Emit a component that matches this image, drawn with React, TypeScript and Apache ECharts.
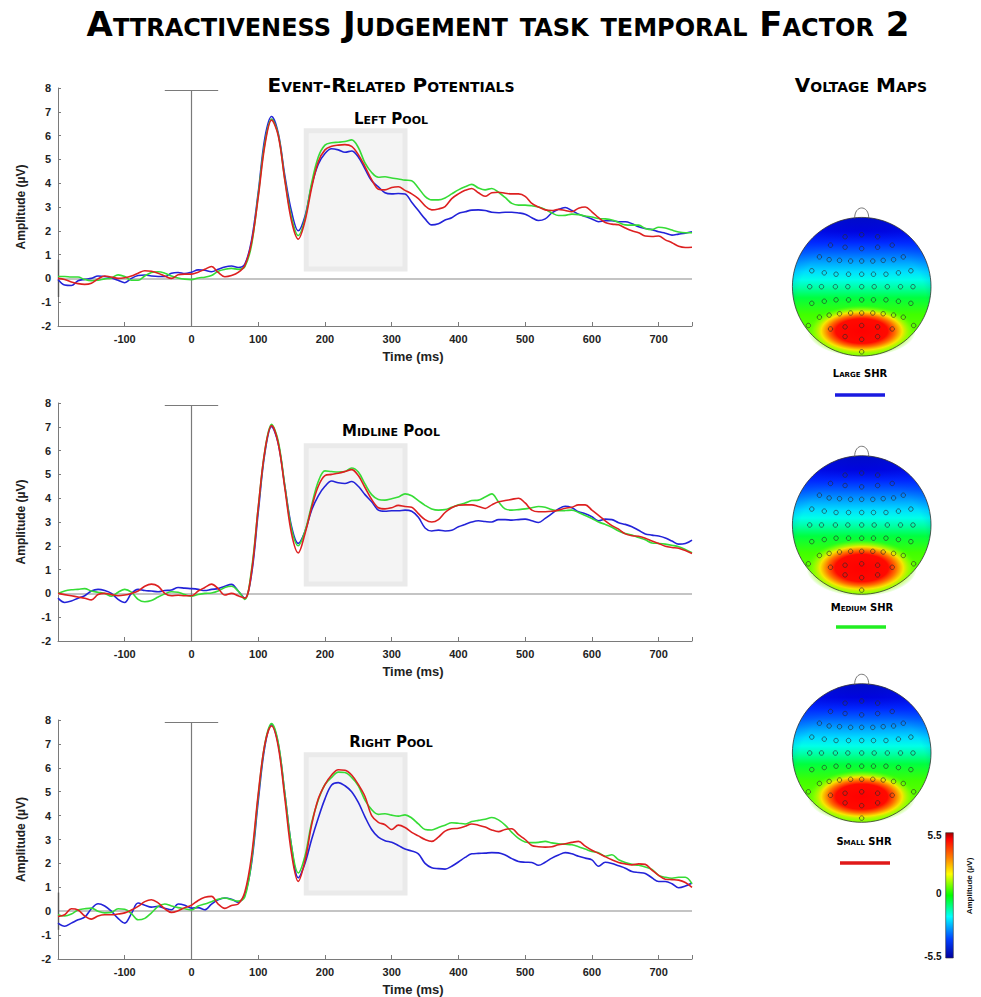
import React, { useEffect, useRef } from 'react';
import * as echarts from 'echarts';

const times = [-200,-190,-180,-170,-160,-150,-140,-130,-120,-110,-100,-90,-80,-70,-60,-50,-40,-30,-20,-10,0,10,20,30,40,50,60,70,80,90,100,110,120,130,140,150,160,170,180,190,200,210,220,230,240,250,260,270,280,290,300,310,320,330,340,350,360,370,380,390,400,410,420,430,440,450,460,470,480,490,500,510,520,530,540,550,560,570,580,590,600,610,620,630,640,650,660,670,680,690,700,710,720,730,740,750];

const xTicks = [-100, 0, 100, 200, 300, 400, 500, 600, 700];

// Left pool
const leftLarge = [-0.05,-0.28,-0.3,-0.1,-0.04,0.0,0.1,0.08,0.02,-0.08,-0.18,0.0,0.12,0.14,0.1,0.08,0.08,0.22,0.25,0.2,0.26,0.36,0.34,0.28,0.38,0.48,0.52,0.46,0.6,1.6,3.6,5.9,6.8,6.1,4.3,2.8,2.0,2.6,3.9,4.8,5.25,5.45,5.4,5.3,5.35,5.1,4.6,4.1,3.85,3.6,3.55,3.57,3.55,3.2,2.85,2.5,2.25,2.3,2.45,2.55,2.73,2.8,2.87,2.88,2.85,2.78,2.76,2.78,2.78,2.75,2.7,2.55,2.43,2.5,2.75,2.9,2.98,2.85,2.7,2.6,2.5,2.38,2.42,2.42,2.38,2.38,2.3,2.17,2.1,2.05,1.96,1.9,1.82,1.86,1.9,1.96];
const leftMedium = [0.08,0.08,0.06,0.06,-0.05,-0.1,-0.08,-0.02,0.02,0.15,0.08,-0.08,-0.08,0.1,0.25,0.28,0.22,0.1,0.02,-0.03,-0.05,0.02,0.05,0.12,0.3,0.38,0.42,0.38,0.5,1.4,3.5,5.7,6.7,6.05,4.15,2.55,1.8,2.5,4.0,5.1,5.6,5.7,5.72,5.75,5.82,5.5,4.85,4.45,4.25,4.27,4.22,4.18,4.13,4.1,3.8,3.45,3.3,3.3,3.38,3.55,3.72,3.85,3.95,3.8,3.72,3.78,3.62,3.4,3.15,3.08,3.08,3.05,3.0,2.9,2.75,2.64,2.65,2.7,2.68,2.62,2.58,2.52,2.5,2.45,2.35,2.25,2.24,2.24,2.1,2.05,2.15,2.12,2.03,1.95,1.92,1.92];
const leftSmall = [0.0,-0.05,-0.15,-0.22,-0.25,-0.2,-0.02,0.1,0.06,0.0,0.03,0.1,0.22,0.32,0.3,0.22,0.1,0.0,0.15,0.18,0.18,0.26,0.38,0.5,0.25,0.07,0.12,0.25,0.55,1.5,3.4,5.6,6.65,6.0,4.1,2.4,1.65,2.4,3.8,4.9,5.4,5.55,5.6,5.62,5.55,5.2,4.7,4.15,3.75,3.72,3.82,3.85,3.7,3.55,3.35,3.05,2.88,2.92,3.02,3.35,3.55,3.7,3.78,3.6,3.45,3.6,3.62,3.58,3.55,3.55,3.45,3.15,3.0,2.88,2.85,2.9,2.85,2.8,2.95,3.0,2.8,2.55,2.35,2.28,2.25,2.12,2.0,1.92,1.78,1.76,1.78,1.62,1.5,1.35,1.3,1.31];

// Midline pool
const midLarge = [-0.2,-0.38,-0.32,-0.2,-0.1,0.1,0.17,0.12,0.0,-0.25,-0.38,0.0,0.17,0.12,0.1,0.07,0.12,0.14,0.25,0.22,0.2,0.17,0.12,0.17,0.2,0.3,0.38,0.1,-0.2,0.8,3.4,5.9,7.0,6.3,4.5,2.8,2.1,2.6,3.5,4.1,4.5,4.72,4.65,4.62,4.7,4.5,4.15,3.85,3.5,3.45,3.47,3.47,3.5,3.45,3.2,2.75,2.62,2.66,2.62,2.65,2.8,2.9,3.0,3.05,3.02,3.0,3.1,3.1,3.08,3.1,3.12,3.05,2.98,3.15,3.35,3.55,3.66,3.6,3.43,3.35,3.22,3.05,3.12,3.1,2.97,2.9,2.8,2.65,2.5,2.45,2.41,2.33,2.2,2.07,2.1,2.24];
const midMedium = [0.0,0.1,0.15,0.17,0.2,0.1,0.05,0.0,-0.12,0.05,0.17,0.05,-0.25,-0.35,-0.3,-0.15,-0.02,0.07,0.05,-0.05,-0.12,-0.05,0.0,0.02,0.1,0.25,0.3,0.1,-0.25,1.0,3.6,6.0,7.1,6.4,4.5,2.7,2.0,2.6,3.7,4.7,5.15,5.12,5.1,5.12,5.27,5.1,4.6,4.15,3.95,3.92,3.98,4.05,4.18,4.1,3.9,3.7,3.55,3.5,3.52,3.62,3.72,3.8,3.9,3.92,4.05,4.18,3.85,3.55,3.5,3.52,3.55,3.6,3.65,3.62,3.52,3.47,3.48,3.5,3.4,3.27,3.15,3.0,2.9,2.78,2.62,2.52,2.45,2.35,2.25,2.12,2.1,2.07,2.02,1.96,1.85,1.71];
const midSmall = [0.0,-0.05,-0.1,-0.15,-0.2,-0.27,-0.05,0.0,-0.05,-0.1,-0.07,0.0,0.1,0.3,0.39,0.3,0.0,-0.1,-0.08,-0.1,-0.1,0.1,0.25,0.39,0.2,-0.07,0.0,-0.1,-0.2,0.9,3.6,6.0,7.05,6.3,4.4,2.5,1.7,2.5,3.6,4.5,4.95,5.0,5.05,5.12,5.2,4.95,4.45,3.95,3.6,3.55,3.6,3.7,3.65,3.62,3.35,3.1,3.0,3.1,3.4,3.6,3.7,3.72,3.72,3.65,3.57,3.72,3.85,3.9,3.95,4.0,3.8,3.5,3.43,3.43,3.45,3.5,3.58,3.62,3.72,3.72,3.5,3.28,3.05,2.85,2.7,2.5,2.42,2.4,2.32,2.2,2.1,1.98,1.93,1.9,1.8,1.68];

// Right pool
const rightLarge = [-0.5,-0.63,-0.5,-0.36,-0.25,0.1,0.31,0.22,0.0,-0.3,-0.5,-0.1,0.34,0.25,0.17,0.2,0.12,0.06,0.3,0.25,0.13,0.15,0.06,0.3,0.48,0.55,0.5,0.38,0.7,2.0,4.6,6.9,7.8,7.0,4.9,2.7,1.4,2.0,3.0,3.9,4.7,5.28,5.38,5.25,5.0,4.55,3.95,3.42,3.1,2.95,2.88,2.75,2.6,2.52,2.4,2.0,1.82,1.78,1.76,1.88,2.06,2.25,2.4,2.42,2.43,2.45,2.44,2.35,2.2,2.08,2.05,2.04,1.92,2.05,2.22,2.35,2.45,2.4,2.3,2.22,2.15,1.88,2.05,2.0,1.9,1.8,1.66,1.62,1.58,1.4,1.24,1.24,1.15,0.98,1.05,1.18];
const rightMedium = [-0.15,-0.2,-0.12,0.05,0.1,0.13,0.0,-0.07,-0.05,0.1,0.08,-0.1,-0.36,-0.3,-0.07,0.2,0.3,0.22,0.15,0.1,0.05,0.22,0.3,0.4,0.5,0.55,0.48,0.42,0.6,2.1,4.8,7.0,7.85,7.05,4.9,2.7,1.6,2.3,3.7,4.65,5.3,5.6,5.82,5.8,5.6,5.25,4.65,4.25,4.05,4.08,4.02,3.98,4.03,3.9,3.65,3.42,3.4,3.5,3.6,3.7,3.68,3.65,3.75,3.8,3.85,3.92,3.82,3.6,3.3,3.05,2.9,2.87,2.88,2.92,2.86,2.82,2.8,2.78,2.7,2.6,2.5,2.45,2.3,2.36,2.15,2.04,1.96,1.92,1.85,1.75,1.5,1.42,1.38,1.42,1.42,1.15];
const rightSmall = [-0.22,-0.15,0.1,0.05,-0.2,-0.33,-0.2,-0.15,-0.15,-0.12,-0.07,0.05,0.2,0.4,0.48,0.35,0.1,-0.05,0.02,0.15,0.25,0.45,0.58,0.62,0.3,0.12,0.24,0.3,0.8,2.3,4.9,7.0,7.75,6.9,4.7,2.4,1.25,2.1,3.6,4.7,5.3,5.7,5.92,5.9,5.7,5.3,4.8,4.0,3.72,3.62,3.42,3.6,3.5,3.3,3.15,3.0,2.92,3.1,3.35,3.45,3.47,3.55,3.65,3.6,3.52,3.4,3.33,3.42,3.45,3.2,3.0,2.75,2.7,2.68,2.7,2.78,2.82,2.88,2.92,2.72,2.55,2.42,2.28,2.15,2.04,1.98,1.94,1.98,1.96,1.72,1.5,1.34,1.32,1.3,1.2,1.0];

const poolTitles = ['Left Pool', 'Midline Pool', 'Right Pool'];
const conditionNames = ['Large SHR', 'Medium SHR', 'Small SHR'];
const colorbarTicks = ['5.5', '0', '-5.5'];

// Electrode layout (normalized head coordinates)
const electrodes = [
  [-0.24,0.72],[0,0.75],[0.23,0.72],
  [-0.45,0.60],[-0.24,0.57],[0,0.55],[0.23,0.57],[0.44,0.60],
  [-0.61,0.43],[-0.47,0.39],[-0.32,0.38],[-0.16,0.37],[0,0.37],[0.16,0.37],[0.31,0.38],[0.46,0.39],[0.60,0.43],
  [-0.72,0.23],[-0.54,0.20],[-0.37,0.18],[-0.19,0.18],[0,0.18],[0.17,0.18],[0.35,0.18],[0.53,0.20],[0.71,0.23],
  [-0.75,0],[-0.58,0],[-0.38,0],[-0.20,0],[0,0],[0.18,0],[0.37,0],[0.56,0],[0.74,0],
  [-0.72,-0.24],[-0.54,-0.21],[-0.37,-0.19],[-0.19,-0.19],[0,-0.19],[0.17,-0.19],[0.35,-0.19],[0.53,-0.21],[0.71,-0.24],
  [-0.61,-0.44],[-0.47,-0.41],[-0.32,-0.39],[-0.16,-0.38],[0,-0.38],[0.16,-0.38],[0.31,-0.39],[0.46,-0.41],[0.60,-0.44],
  [-0.77,-0.56],[-0.45,-0.61],[-0.24,-0.58],[0,-0.56],[0.23,-0.58],[0.44,-0.61],[0.75,-0.56],
  [-0.24,-0.72],[0,-0.76],[0.23,-0.72],
  [0,-0.94],
];

const COLORS = ['#2323d8', '#36dc36', '#dd2020'];
const LEGEND_COLORS = ['#1a1ae0', '#22ee22', '#e01818'];

const poolData = [
  [leftLarge, leftMedium, leftSmall],
  [midLarge, midMedium, midSmall],
  [rightLarge, rightMedium, rightSmall],
];

const ERP_GRIDS = [
  { left: 58, top: 88, width: 634, height: 238 },
  { left: 58, top: 403, width: 634, height: 238 },
  { left: 58, top: 720, width: 634, height: 239 },
];
const BOX = [
  [172, 6.2, 320, 0.4],
  [172, 6.2, 320, 0.4],
  [172, 6.55, 320, 0.76],
];
const HEAD_R = 69.3;
const HEAD_CX = 861.7;
const HEAD_CY = [286.7, 525, 753];
const BLOBS = [
  { dy: 0.64, rx: 0.78, ry: 0.37 },
  { dy: 0.62, rx: 0.8, ry: 0.41 },
  { dy: 0.63, rx: 0.78, ry: 0.38 },
];

const SC = 'DejaVu Sans, sans-serif';

function headElements(k: number): any[] {
  const cx = HEAD_CX, cy = HEAD_CY[k], r = HEAD_R, b = BLOBS[k];
  return [
    {
      type: 'circle', z: 0, silent: true,
      shape: { cx, cy, r },
      style: {
        fill: new echarts.graphic.LinearGradient(0, 0, 0, 1, [
          { offset: 0, color: '#0000b4' },
          { offset: 0.1, color: '#0000dc' },
          { offset: 0.18, color: '#0028ff' },
          { offset: 0.25, color: '#0060ff' },
          { offset: 0.32, color: '#00a0ff' },
          { offset: 0.39, color: '#00dcff' },
          { offset: 0.45, color: '#00ffe8' },
          { offset: 0.51, color: '#00ffa0' },
          { offset: 0.58, color: '#00ff40' },
          { offset: 0.7, color: '#40ff00' },
          { offset: 0.88, color: '#70ff00' },
          { offset: 1, color: '#90ff00' },
        ]),
      },
    },
    {
      type: 'circle', z: 0, silent: true,
      shape: { cx, cy, r },
      style: {
        fill: new echarts.graphic.RadialGradient(0.5, 0.62, 0.62, [
          { offset: 0, color: 'rgba(0,40,255,0)' },
          { offset: 0.75, color: 'rgba(0,40,255,0)' },
          { offset: 1, color: 'rgba(0,40,255,0.3)' },
        ]),
      },
    },
    {
      type: 'ellipse', z: 0, silent: true,
      shape: { cx, cy: cy + b.dy * r, rx: b.rx * r, ry: b.ry * r },
      style: {
        fill: new echarts.graphic.RadialGradient(0.5, 0.5, 0.5, [
          { offset: 0, color: '#ff0000' },
          { offset: 0.48, color: '#ff0a00' },
          { offset: 0.62, color: '#ff7000' },
          { offset: 0.75, color: 'rgba(255,230,0,0.95)' },
          { offset: 0.88, color: 'rgba(170,255,0,0.5)' },
          { offset: 1, color: 'rgba(90,255,0,0)' },
        ]),
      },
    },
    {
      type: 'circle', z: 0, silent: true,
      shape: { cx, cy, r },
      style: { fill: 'none', stroke: '#333', lineWidth: 0.8 },
    },
    {
      type: 'bezierCurve', z: 0, silent: true,
      shape: { x1: cx - 7, y1: cy - r + 1.2, cpx1: cx - 7.5, cpy1: cy - r - 13, cpx2: cx + 7.5, cpy2: cy - r - 13, x2: cx + 7, y2: cy - r + 1.2 },
      style: { stroke: '#555', lineWidth: 0.8, fill: 'none' },
    },
  ];
}

function textEl(text: string, x: number, y: number, font: string, extra: any = {}): any {
  return {
    type: 'text', x, y, z: 1, silent: true, ...extra,
    style: { text, font, fill: '#000', align: 'center', verticalAlign: 'middle', ...(extra.style || {}) },
  };
}

export default function App() {
  const ref = useRef<HTMLDivElement>(null);
  useEffect(() => {
    document.body.style.margin = '0';
    const chart = echarts.init(ref.current!, null, { renderer: 'svg' });

    const grids: any[] = ERP_GRIDS.map((g) => ({ ...g, containLabel: false }));
    HEAD_CY.forEach((cy) => grids.push({ left: HEAD_CX - HEAD_R, top: cy - HEAD_R, width: HEAD_R * 2, height: HEAD_R * 2 }));

    const axisLabelStyle = { color: '#222', fontWeight: 'bold', fontSize: 11, fontFamily: 'Liberation Sans, Arial, sans-serif' };
    const xAxes: any[] = ERP_GRIDS.map((_, i) => ({
      type: 'value', gridIndex: i, min: -200, max: 750, interval: 100,
      axisLine: { show: true, onZero: false, lineStyle: { color: '#7a7a7a', width: 1 } },
      axisTick: { show: true, inside: true, length: 4, lineStyle: { color: '#7a7a7a' } },
      axisLabel: { ...axisLabelStyle, margin: 7, formatter: (v: number) => (xTicks.includes(v) ? String(v) : '') },
      splitLine: { show: false },
      name: 'Time (ms)', nameLocation: 'middle', nameGap: 24,
      nameTextStyle: { color: '#222', fontWeight: 'bold', fontSize: 13, fontFamily: 'Liberation Sans, Arial, sans-serif', padding: [0, 0, 0, 76] },
    }));
    const yAxes: any[] = ERP_GRIDS.map((_, i) => ({
      type: 'value', gridIndex: i, min: -2, max: 8, interval: 1,
      axisLine: { show: true, onZero: false, lineStyle: { color: '#7a7a7a', width: 1 } },
      axisTick: { show: true, inside: true, length: 3, lineStyle: { color: '#7a7a7a' } },
      axisLabel: { ...axisLabelStyle, margin: 7 },
      splitLine: { show: false },
      name: 'Amplitude (µV)', nameLocation: 'middle', nameGap: 31,
      nameTextStyle: { color: '#222', fontWeight: 'bold', fontSize: 12, fontFamily: 'Liberation Sans, Arial, sans-serif' },
    }));
    HEAD_CY.forEach((_, k) => {
      xAxes.push({ type: 'value', gridIndex: 3 + k, min: -1, max: 1, show: false });
      yAxes.push({ type: 'value', gridIndex: 3 + k, min: -1, max: 1, show: false });
    });

    const series: any[] = [];
    poolData.forEach((sets, p) => {
      sets.forEach((vals, c) => {
        const s: any = {
          type: 'line', name: conditionNames[c], xAxisIndex: p, yAxisIndex: p,
          data: times.map((t, i) => [t, vals[i]]),
          showSymbol: false, smooth: 0.35, z: 3 + c,
          lineStyle: { color: COLORS[c], width: 1.6 },
          itemStyle: { color: COLORS[c] },
        };
        if (c === 0) {
          const [x0, y0, x1, y1] = BOX[p];
          const lines: any[] = [
            [{ coord: [-200, 0], lineStyle: { color: '#c4c4c4', width: 2, type: 'solid' } }, { coord: [750, 0] }],
            [{ coord: [0, -2], lineStyle: { color: '#7a7a7a', width: 1.2, type: 'solid' } }, { coord: [0, 7.9] }],
            [{ coord: [-40, 7.9], lineStyle: { color: '#7a7a7a', width: 1.2, type: 'solid' } }, { coord: [40, 7.9] }],
          ];
          if (p !== 1) {
            lines.push([{ coord: [-200, -0.78], lineStyle: { color: '#555', width: 1.4, type: 'solid' } }, { coord: [-200, 0.78] }]);
          }
          s.markLine = { silent: true, symbol: 'none', z: 1, label: { show: false }, data: lines };
          s.markArea = {
            silent: true, z: 0,
            itemStyle: { color: '#f4f4f4', borderColor: '#eaeaea', borderWidth: 5 },
            data: [[{ coord: [x0, y0] }, { coord: [x1, y1] }]],
          };
        }
        series.push(s);
      });
    });
    HEAD_CY.forEach((_, k) => {
      series.push({
        type: 'scatter', name: 'electrodes' + k, xAxisIndex: 3 + k, yAxisIndex: 3 + k,
        data: electrodes, symbol: 'circle', symbolSize: 4.5, silent: true, z: 5,
        itemStyle: { color: 'rgba(0,0,0,0)', borderColor: '#2a2a2a', borderWidth: 0.8 },
      });
    });

    const graphics: any[] = [];
    HEAD_CY.forEach((_, k) => graphics.push(...headElements(k)));
    graphics.push(textEl('Attractiveness Judgement task temporal Factor 2', 498, 24, `small-caps bold 34px ${SC}`));
    graphics.push(textEl('Event-Related Potentials', 391, 85, `small-caps bold 20px ${SC}`));
    graphics.push(textEl('Voltage Maps', 861, 85, `small-caps bold 20px ${SC}`));
    const poolTitleY = [119, 431, 742];
    poolTitles.forEach((t, i) => graphics.push(textEl(t, 391, poolTitleY[i], `small-caps bold 15px ${SC}`)));
    const condY = [373, 607, 841];
    const condX = [860, 862, 864];
    const lineY = [395, 627, 863];
    const lineX = [860, 861, 865];
    conditionNames.forEach((t, i) => {
      graphics.push(textEl(t, condX[i], condY[i], `small-caps bold 10px ${SC}`));
      graphics.push({
        type: 'line', z: 1, silent: true,
        shape: { x1: lineX[i] - 25, y1: lineY[i], x2: lineX[i] + 25, y2: lineY[i] },
        style: { stroke: LEGEND_COLORS[i], lineWidth: 3.5 },
      });
    });
    // colorbar
    graphics.push({
      type: 'rect', z: 1, silent: true,
      shape: { x: 945.7, y: 832.7, width: 7.6, height: 125.3 },
      style: {
        fill: new echarts.graphic.LinearGradient(0, 0, 0, 1, [
          { offset: 0, color: '#9a0000' },
          { offset: 0.05, color: '#ff0000' },
          { offset: 0.2, color: '#ff8000' },
          { offset: 0.33, color: '#ffff00' },
          { offset: 0.5, color: '#00ff00' },
          { offset: 0.67, color: '#00ffff' },
          { offset: 0.85, color: '#0040ff' },
          { offset: 1, color: '#0000a0' },
        ]),
        stroke: '#333', lineWidth: 0.6,
      },
    });
    const cbY = [835, 893, 956];
    colorbarTicks.forEach((t, i) => graphics.push({
      type: 'text', x: 941.5, y: cbY[i], z: 1, silent: true,
      style: { text: t, font: 'bold 10px Liberation Sans, Arial, sans-serif', fill: '#111', align: 'right', verticalAlign: 'middle' },
    }));
    graphics.push({
      type: 'text', x: 969, y: 886, rotation: Math.PI / 2, z: 1, silent: true,
      style: { text: 'Amplitude (µV)', font: 'bold 8px Liberation Sans, Arial, sans-serif', fill: '#111', align: 'center', verticalAlign: 'middle' },
    });

    chart.setOption({
      animation: false,
      backgroundColor: '#ffffff',
      grid: grids,
      xAxis: xAxes,
      yAxis: yAxes,
      series,
      graphic: { elements: graphics },
    });
    return () => chart.dispose();
  }, []);
  return <div ref={ref} style={{ width: 981, height: 997 }} />;
}
